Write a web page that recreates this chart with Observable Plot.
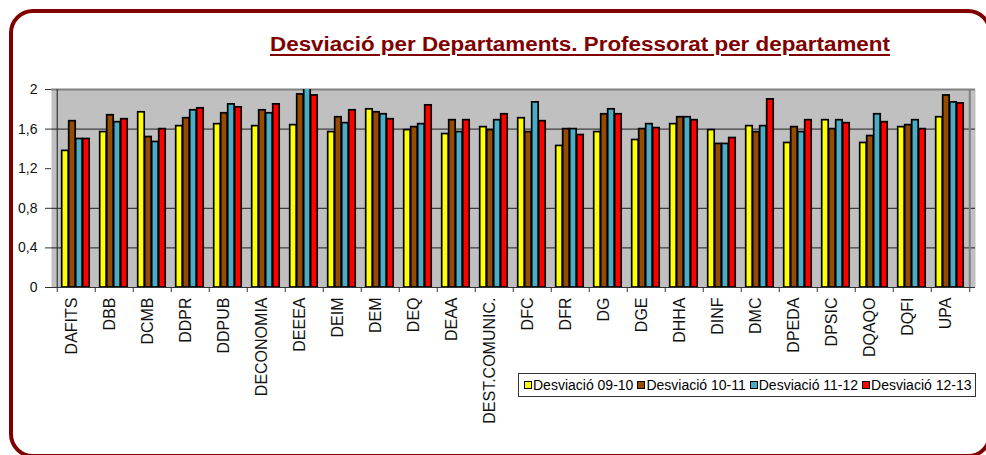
<!DOCTYPE html>
<html><head><meta charset="utf-8">
<script src="https://cdn.jsdelivr.net/npm/d3@7"></script>
<script src="https://cdn.jsdelivr.net/npm/@observablehq/plot@0.6"></script>
<style>
body{margin:0;background:#fff;}
#wrap{position:relative;width:986px;height:455px;overflow:hidden;font-family:"Liberation Sans",Arial,sans-serif;}
#chart{position:absolute;left:0;top:0;}
#border{position:absolute;left:9px;top:9px;width:983px;height:449px;box-sizing:border-box;border:4.5px solid #800000;border-radius:24px;pointer-events:none;}
#title{position:absolute;left:270px;top:34px;font-size:20px;line-height:20px;font-weight:bold;color:#800000;text-decoration:underline;text-decoration-thickness:2px;text-underline-offset:3px;white-space:nowrap;transform:scaleX(1.12);transform-origin:0 0;}
#legend{position:absolute;left:518px;top:373px;width:458px;height:24px;box-sizing:border-box;border:1px solid #333;background:#fff;display:flex;align-items:center;padding-left:5px;font-size:14px;color:#000;white-space:nowrap;}
#legend .item{display:flex;align-items:center;margin-right:4px;}
#legend .sw{display:inline-block;width:8px;height:8px;box-sizing:border-box;border:1.5px solid #000;margin-right:1px;}
</style>
</head><body>
<div id="wrap">
  <div id="chart"></div>
  <div id="title"></div>
  <div id="legend"></div>
  <div id="border"></div>
</div>
<script>
const titleText = "Desviació per Departaments. Professorat per departament";
const depts = ["DAFITS","DBB","DCMB","DDPR","DDPUB","DECONOMIA","DEEEA","DEIM","DEM","DEQ","DEAA","DEST.COMUNIC.","DFC","DFR","DG","DGE","DHHA","DINF","DMC","DPEDA","DPSIC","DQAQO","DQFI","UPA"];
const seriesNames = ["Desviació 09-10","Desviació 10-11","Desviació 11-12","Desviació 12-13"];
const dev0910 = [1.38,1.57,1.77,1.63,1.65,1.63,1.64,1.57,1.80,1.59,1.55,1.62,1.71,1.43,1.57,1.49,1.65,1.59,1.63,1.46,1.69,1.46,1.62,1.72];
const dev1011 = [1.68,1.74,1.52,1.71,1.76,1.79,1.95,1.72,1.77,1.62,1.69,1.59,1.57,1.60,1.75,1.60,1.72,1.45,1.57,1.62,1.60,1.53,1.64,1.94];
const dev1112 = [1.50,1.67,1.47,1.79,1.85,1.76,2.03,1.66,1.75,1.65,1.57,1.69,1.87,1.60,1.80,1.65,1.72,1.45,1.63,1.57,1.69,1.75,1.69,1.87];
const dev1213 = [1.50,1.70,1.60,1.81,1.82,1.85,1.94,1.79,1.70,1.84,1.69,1.75,1.68,1.54,1.75,1.61,1.69,1.51,1.90,1.69,1.66,1.67,1.60,1.86];
const yTicks = [0,0.4,0.8,1.2,1.6,2];
const gridValues = [0.4,0.8,1.6];
const colors = ["#FFFF00","#964B00","#4BACC6","#FF0000"];

const allSeries = [dev0910, dev1011, dev1112, dev1213];
const W = 986, H = 455, mL = 51, mR = 11, mT = 89, mB = 168;
const bw = (W - mL - mR) / depts.length;
const barW = 7, groupOff = 4.7;

const barMarks = allSeries.map((vals, i) =>
  Plot.barY(depts.map((d, j) => ({dept: d, value: vals[j], serie: seriesNames[i]})), {
    x: "dept", y: "value", fill: colors[i], stroke: "#000", strokeWidth: 1.7,
    insetLeft: groupOff + barW * i, insetRight: bw - (groupOff + barW * (i + 1)), clip: true
  })
);

const chart = Plot.plot({
  width: W, height: H,
  marginLeft: mL, marginRight: mR, marginTop: mT, marginBottom: mB,
  style: {fontFamily: "'Liberation Sans', Arial, sans-serif", background: "transparent", color: "#000"},
  x: {domain: depts, padding: 0, axis: null, label: null},
  y: {domain: [0, 2], axis: null, label: null},
  marks: [
    Plot.frame({fill: "#C0C0C0", stroke: null}),
    Plot.gridY(gridValues, {stroke: "#000", strokeOpacity: 0.85, strokeWidth: 1}),
    Plot.ruleY([2], {stroke: "#808080", strokeWidth: 2}),
    Plot.ruleX([depts[depts.length - 1]], {dx: bw / 2, y1: 0, y2: 2, stroke: "#808080", strokeWidth: 2}),
    ...barMarks,
    Plot.ruleY([0], {stroke: "#333", strokeWidth: 1.2}),
    Plot.ruleX([depts[0]], {dx: -bw / 2, y1: 0, y2: 2, stroke: "#333", strokeWidth: 1.2}),
    Plot.ruleX(depts, {x: d => d, dx: -bw / 2, y1: 0, y2: 0, insetBottom: -5, stroke: "#333"}),
    Plot.ruleX([depts[depts.length - 1]], {dx: bw / 2, y1: 0, y2: 0, insetBottom: -5, stroke: "#333"}),
    Plot.axisY(yTicks, {tickSize: 6, tickPadding: 8, fontSize: 14, stroke: "#333", label: null,
      tickFormat: d => String(d).replace(".", ","), fill: "#111"}),
    Plot.axisX({tickSize: 0, tickPadding: 10, tickRotate: -90, fontSize: 16, fill: "#111", label: null, dx: -5})
  ]
});
document.getElementById("chart").appendChild(chart);

document.getElementById("title").textContent = titleText;
const legend = document.getElementById("legend");
seriesNames.forEach((name, i) => {
  const item = document.createElement("span");
  item.className = "item";
  const sw = document.createElement("span");
  sw.className = "sw";
  sw.style.background = colors[i];
  const t = document.createElement("span");
  t.textContent = name;
  item.appendChild(sw); item.appendChild(t);
  legend.appendChild(item);
});
</script>
</body></html>
